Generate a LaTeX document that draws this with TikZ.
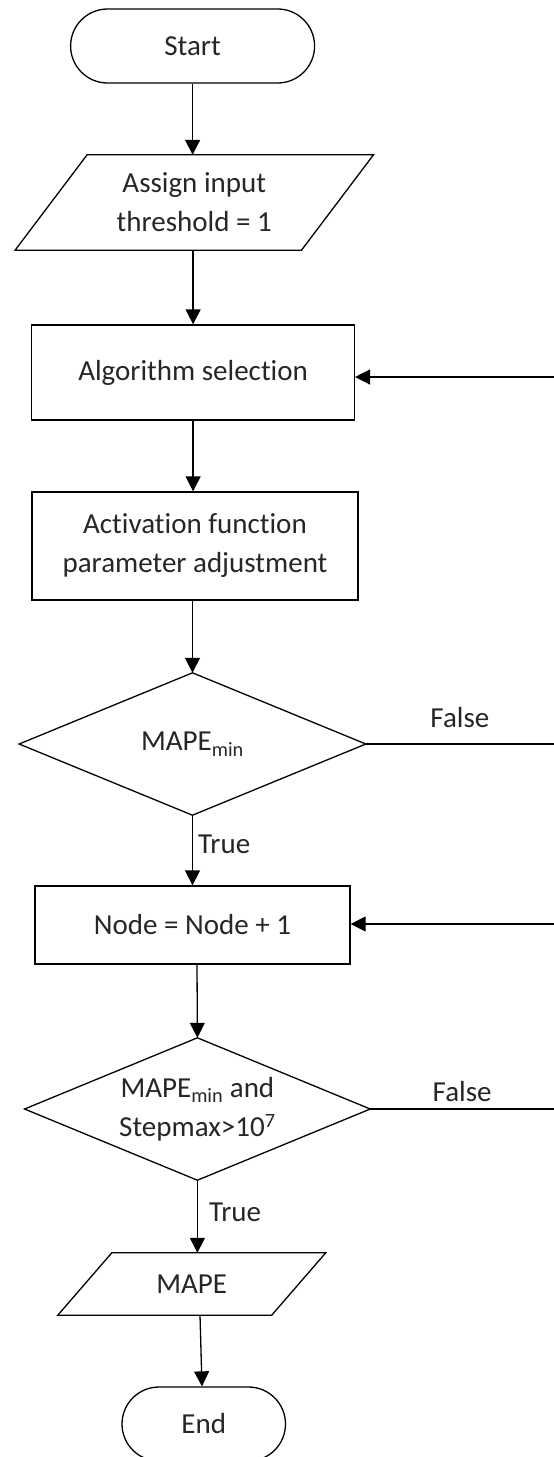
\documentclass[tikz,border=0pt]{standalone}
\usepackage{fontspec}
\setmainfont{Carlito}[Ligatures={NoCommon,NoDiscretionary}]
\usetikzlibrary{arrows.meta,calc}
\begin{document}
\begin{tikzpicture}[x=1pt,y=-1pt,
  line/.style={line width=1.3pt, draw=black},
  arr/.style={line, -{Triangle[width=15pt,length=15pt]}},
  lbl/.style={font=\fontsize{29}{39}\selectfont, text=black!85, align=center, inner sep=0pt},
  term/.style={lbl, line, rounded corners=37pt, minimum height=74pt},
  proc/.style={lbl, line},
  frame/.style={lbl, draw=none},
]
\useasboundingbox (0,0) rectangle (554,1457);
\clip (0,0) rectangle (554,1457);

% nodes
\node[term, minimum width=244pt] (start) at (192.6,46) {Start};

\node[frame, minimum width=286pt, minimum height=95pt] (assign) at (194.3,202.5) {Assign input\\threshold = 1};
\draw[line] ($(assign.north west)+(36,0)$) -- ($(assign.north east)+(36,0)$) -- ($(assign.south east)-(36,0)$) -- ($(assign.south west)-(36,0)$) -- cycle;

\node[proc, minimum width=322.6pt, minimum height=95pt] (algo) at (193.1,372.5) {Algorithm selection};

\node[proc, minimum width=326pt, minimum height=108pt] (act) at (195,546) {Activation function\\parameter adjustment};

\node[frame, minimum width=346.3pt, minimum height=142pt] (dia1) at (192.5,744) {MAPE\textsubscript{min}};
\draw[line] (dia1.north) -- (dia1.east) -- (dia1.south) -- (dia1.west) -- cycle;

\node[proc, minimum width=315pt, minimum height=78pt] (incr) at (192.5,925) {Node = Node + 1};

\node[frame, minimum width=345.3pt, minimum height=142pt] (dia2) at (197.4,1109) {MAPE\textsubscript{min} and\\Stepmax>10\textsuperscript{7}};
\draw[line] (dia2.north) -- (dia2.east) -- (dia2.south) -- (dia2.west) -- cycle;

\node[frame, minimum width=213.5pt, minimum height=62pt] (mape) at (191.75,1284) {MAPE};
\draw[line] ($(mape.north west)+(27,0)$) -- ($(mape.north east)+(27,0)$) -- ($(mape.south east)-(27,0)$) -- ($(mape.south west)-(27,0)$) -- cycle;

\node[term, minimum width=163.5pt] (end) at (203.75,1424) {End};

% off-picture ends of the loop lines
\coordinate (r1) at (554,377);
\coordinate (f1) at (554,744);
\coordinate (r2) at (554,924);
\coordinate (f2) at (554,1109);

% connectors
\draw[arr] (start.south) -- (start.south |- assign.north);
\draw[arr] (algo.north |- assign.south) -- (algo.north);
\draw[arr] (algo.south) -- (algo.south |- act.north);
\draw[arr] (dia1.north |- act.south) -- (dia1.north);
\draw[arr] (dia1.south) -- (dia1.south |- incr.north)
  node[lbl, pos=0.41, anchor=west, xshift=5pt] {True};
\draw[line] (dia1.east) -- (f1)
  node[lbl, midway, anchor=south, yshift=16pt] {False};
\draw[arr] (r1) -- (algo.east |- r1);
\draw[arr] (r2) -- (incr.east |- r2);
\draw[arr] ([xshift=4.5pt]incr.south) -- (dia2.north);
\draw[line] (dia2.east) -- (f2)
  node[lbl, midway, anchor=south, yshift=7pt] {False};
\draw[arr] (dia2.south) -- (dia2.south |- mape.north)
  node[lbl, pos=0.44, anchor=west, xshift=11pt] {True};
\draw[arr] ([xshift=8.25pt]mape.south) -- ([xshift=-1.75pt]end.north);
\end{tikzpicture}
\end{document}
